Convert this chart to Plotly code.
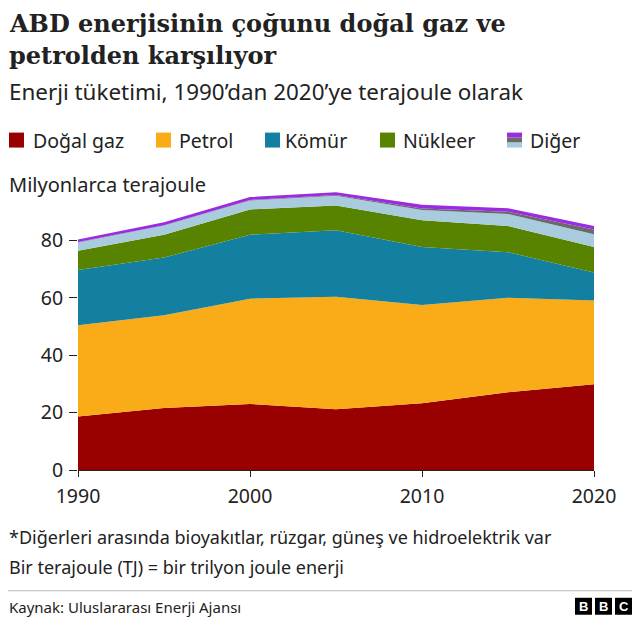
import plotly.graph_objects as go

years = [1990, 1995, 2000, 2005, 2010, 2015, 2020]
dogal_gaz = [18.6, 21.6, 23.0, 21.2, 23.3, 27.1, 29.9]
petrol = [31.8, 32.3, 36.7, 39.2, 34.2, 32.9, 29.2]
komur = [19.3, 20.1, 22.3, 23.1, 20.2, 15.9, 9.7]
nukleer = [6.7, 8.0, 8.8, 8.7, 9.3, 9.1, 8.9]
diger_acik = [2.9, 3.2, 3.1, 3.4, 3.6, 4.2, 4.4]
diger_gri = [0.1, 0.1, 0.2, 0.2, 0.5, 0.8, 1.7]
diger_mor = [0.9, 1.0, 1.0, 1.0, 1.3, 1.2, 1.2]

x_ticks = [1990, 2000, 2010, 2020]
y_ticks = [0, 20, 40, 60, 80]

series = [
    ("Doğal gaz", dogal_gaz, "#990000"),
    ("Petrol", petrol, "#FAAB18"),
    ("Kömür", komur, "#1380A1"),
    ("Nükleer", nukleer, "#588300"),
    ("Diğer (1)", diger_acik, "#A8CCDD"),
    ("Diğer (2)", diger_gri, "#6A6A6A"),
    ("Diğer (3)", diger_mor, "#9B2BE3"),
]

SANS = "Noto Sans"
SERIF = "DejaVu Serif"
TXT = "#222222"

# page has an 8px body margin; design in page pixels and shift
OFF = 8
W, H = 640 - OFF, 625 - OFF
L = 78 - OFF
R = W - (594 - OFF)
T = 182.5 - OFF
B = H - (470 - OFF)
PW = W - L - R
PH = H - T - B


def fx(px):
    return (px - OFF - L) / PW


def fy(py):
    return (H - B - (py - OFF)) / PH


fig = go.Figure()
for name, vals, col in series:
    fig.add_trace(go.Scatter(
        x=years, y=vals, name=name, stackgroup="one", mode="none",
        fillcolor=col, hoverinfo="x+y+name", showlegend=False,
    ))

shapes = []
annotations = []


def text(px, py, s, size, color=TXT, family=SANS, xanchor="left", bold=False):
    if bold:
        s = "<b>" + s + "</b>"
    annotations.append(dict(
        x=fx(px), y=fy(py), xref="paper", yref="paper", text=s, showarrow=False,
        xanchor=xanchor, yanchor="middle", font=dict(size=size, color=color, family=family),
    ))


def rect(x0, y0, x1, y1, color):
    shapes.append(dict(type="rect", xref="paper", yref="paper",
                       x0=fx(x0), x1=fx(x1), y0=fy(y0), y1=fy(y1),
                       fillcolor=color, line=dict(width=0)))


# Title / subtitle
text(7, 23, "ABD enerjisinin çoğunu doğal gaz ve", 24, family=SERIF, bold=True)
text(7, 55, "petrolden karşılıyor", 24, family=SERIF, bold=True)
text(7, 91, "Enerji tüketimi, 1990’dan 2020’ye terajoule olarak", 22.4)

# Legend
leg = [(9, 31, "Doğal gaz", "#990000"), (156, 177, "Petrol", "#FAAB18"),
       (265, 283, "Kömür", "#1380A1"), (380, 401, "Nükleer", "#588300")]
for sx, tx, lab, col in leg:
    rect(sx, 132, sx + 15, 147, col)
    text(tx, 140, lab, 19.5)
rect(507, 132, 522, 137, "#9B2BE3")
rect(507, 137, 522, 142, "#6A6A6A")
rect(507, 142, 522, 147, "#A8CCDD")
text(528, 140, "Diğer", 19.5)

text(7, 184, "Milyonlarca terajoule", 20)

# Footnotes
text(7, 537, "*Diğerleri arasında bioyakıtlar, rüzgar, güneş ve hidroelektrik var", 18)
text(7, 567, "Bir terajoule (TJ) = bir trilyon joule enerji", 18)
shapes.append(dict(type="line", xref="paper", yref="paper", x0=fx(8), x1=fx(640),
                   y0=fy(591), y1=fy(591), line=dict(color="#BBBBBB", width=1)))
text(7, 607, "Kaynak: Uluslararası Enerji Ajansı", 15)

# BBC logo
for i, ch in enumerate("BBC"):
    x0 = 575 + i * 20
    rect(x0, 598, x0 + 17, 615, "#000000")
    text(x0 + 8.5, 606.5, ch, 13, color="#FFFFFF", family="Liberation Sans", xanchor="center", bold=True)

fig.update_layout(
    width=W, height=H,
    margin=dict(l=L, r=R, t=T, b=B, pad=0),
    paper_bgcolor="white", plot_bgcolor="white",
    shapes=shapes, annotations=annotations,
    showlegend=False,
    xaxis=dict(range=[1990, 2020], tickvals=x_ticks, ticks="outside", ticklen=6,
               tickcolor="#222222", showline=True, linecolor="#222222", linewidth=1,
               showgrid=False, zeroline=False, ticklabelstandoff=3,
               tickfont=dict(size=19.5, color=TXT, family=SANS)),
    yaxis=dict(range=[0, 100], tickvals=y_ticks, ticks="outside", ticklen=8,
               tickcolor="#222222", showline=False, showgrid=False, zeroline=False,
               ticklabelstandoff=2,
               tickfont=dict(size=19.5, color=TXT, family=SANS)),
)

fig.write_html("out.html")
